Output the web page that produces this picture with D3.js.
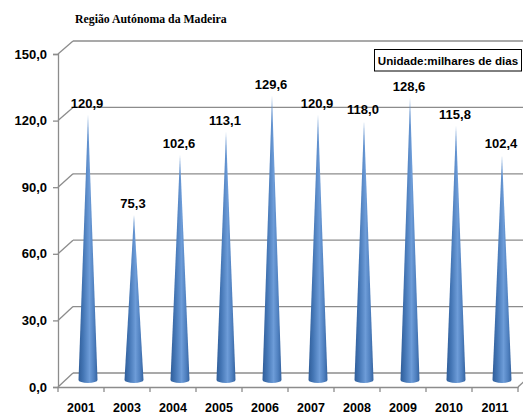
<!DOCTYPE html>
<html>
<head>
<meta charset="utf-8">
<script src="https://cdn.jsdelivr.net/npm/d3@7"></script>
<style>
  html, body { margin: 0; padding: 0; background: #fff; }
  svg { display: block; }
  text { font-family: "Liberation Sans", Arial, sans-serif; font-weight: bold; }
</style>
</head>
<body>
<svg id="chart" width="523" height="418"></svg>
<script>
// chart data
var years = ['2001', '2003', '2004', '2005', '2006', '2007', '2008', '2009', '2010', '2011'];
var values = [120.9, 75.3, 102.6, 113.1, 129.6, 120.9, 118.0, 128.6, 115.8, 102.4];
var yTicks = [0, 30, 60, 90, 120, 150];
var title = 'Região Autónoma da Madeira';
var unitLabel = 'Unidade:milhares de dias';

var W = 523, H = 418;
var DEPTH_X = 15;  // 3d offset of back wall

var svg = d3.select('#chart');

var x = d3.scaleBand().domain(years).range([58, 518]).padding(0);
var yFront = d3.scaleLinear().domain([0, 150]).range([387, 54]);
var yBack = d3.scaleLinear().domain([0, 150]).range([373, 41]);
var yMid = d3.scaleLinear().domain([0, 150]).range([380, 51]);

var fmt = function(d) {
  return d3.format('.1f')(d).replace('.', ',');
};

// gradient for cones
var defs = svg.append('defs');
var grad = defs.append('linearGradient')
    .attr('id', 'coneGrad')
    .attr('x1', '0%').attr('x2', '100%')
    .attr('y1', '0%').attr('y2', '0%');
grad.append('stop').attr('offset', '0%').attr('stop-color', '#2f5d99');
grad.append('stop').attr('offset', '25%').attr('stop-color', '#4476b5');
grad.append('stop').attr('offset', '58%').attr('stop-color', '#6d9cd8');
grad.append('stop').attr('offset', '82%').attr('stop-color', '#4f80bf');
grad.append('stop').attr('offset', '100%').attr('stop-color', '#35639f');

var frame = svg.append('g')
    .attr('fill', 'none')
    .attr('stroke', '#8c8c8c')
    .attr('stroke-width', 1.3);

var x0 = x.range()[0], x1 = x.range()[1];

// back wall gridlines
frame.selectAll('.grid')
    .data(yTicks)
    .enter().append('line')
    .attr('class', 'grid')
    .attr('x1', x0 + DEPTH_X)
    .attr('x2', x1 + DEPTH_X)
    .attr('y1', function(d) { return yBack(d); })
    .attr('y2', function(d) { return yBack(d); });

// side wall diagonals
frame.selectAll('.diag')
    .data(yTicks)
    .enter().append('line')
    .attr('class', 'diag')
    .attr('x1', x0)
    .attr('x2', x0 + DEPTH_X)
    .attr('y1', function(d) { return yFront(d); })
    .attr('y2', function(d) { return yBack(d); });

// floor right diagonal
frame.append('line')
    .attr('x1', x1).attr('y1', yFront(0))
    .attr('x2', x1 + DEPTH_X).attr('y2', yBack(0));

// y axis (front)
var yAxis = svg.append('g')
    .attr('transform', 'translate(' + x0 + ',0)')
    .call(d3.axisLeft(yFront).tickValues(yTicks).tickFormat(fmt)
        .tickSize(5).tickPadding(6));
yAxis.select('.domain').attr('stroke', '#8c8c8c').attr('stroke-width', 1.3);
yAxis.selectAll('.tick line').attr('stroke', '#8c8c8c').attr('stroke-width', 1.3);
yAxis.selectAll('.tick text')
    .attr('font-family', '"Liberation Sans", Arial, sans-serif')
    .attr('font-weight', 'bold')
    .attr('font-size', 13)
    .attr('fill', '#000');

// x axis (front)
var xAxis = svg.append('g')
    .attr('transform', 'translate(0,' + yFront(0) + ')')
    .call(d3.axisBottom(x).tickSize(0).tickPadding(16.5).tickSizeOuter(0));
xAxis.select('.domain').attr('stroke', '#8c8c8c').attr('stroke-width', 1.3);
xAxis.selectAll('.tick text')
    .attr('font-family', '"Liberation Sans", Arial, sans-serif')
    .attr('font-weight', 'bold')
    .attr('font-size', 12.5)
    .attr('fill', '#000');

// tick marks at category boundaries
var bounds = years.map(function(d) { return x(d); }).concat([x1]);
xAxis.selectAll('.bound')
    .data(bounds)
    .enter().append('line')
    .attr('class', 'bound')
    .attr('x1', function(d) { return d; })
    .attr('x2', function(d) { return d; })
    .attr('y1', 0).attr('y2', 5)
    .attr('stroke', '#8c8c8c').attr('stroke-width', 1.3);

// cones
var coneR = 9.5, coneRy = 3;
function coneX(d) {
  return x(d) + x.bandwidth() / 2 + 7;
}

svg.append('g').selectAll('path.cone')
    .data(years)
    .enter().append('path')
    .attr('class', 'cone')
    .attr('fill', 'url(#coneGrad)')
    .attr('d', function(d, i) {
      var cx = coneX(d), base = yMid(0), tip = yMid(values[i]);
      return 'M' + (cx - coneR) + ',' + base +
          'L' + cx + ',' + tip +
          'L' + (cx + coneR) + ',' + base +
          'A' + coneR + ',' + coneRy + ' 0 0 1 ' + (cx - coneR) + ',' + base + 'Z';
    });

// value labels
svg.append('g').selectAll('text.val')
    .data(years)
    .enter().append('text')
    .attr('class', 'val')
    .attr('x', function(d) { return coneX(d) - 1; })
    .attr('y', function(d, i) { return yMid(values[i]) - 7; })
    .attr('text-anchor', 'middle')
    .attr('font-size', 13)
    .attr('fill', '#000')
    .text(function(d, i) { return fmt(values[i]); });

// title (serif, so override the css default)
svg.append('text')
    .attr('x', 75)
    .attr('y', 23)
    .style('font-family', '"Liberation Serif", "Times New Roman", serif')
    .style('font-weight', 'bold')
    .attr('font-size', 11.8)
    .attr('fill', '#000')
    .text(title);

// unit box
svg.append('rect')
    .attr('x', 374.5).attr('y', 49.5)
    .attr('width', 147).attr('height', 21.5)
    .attr('fill', '#fff')
    .attr('stroke', '#000')
    .attr('stroke-width', 1);
svg.append('text')
    .attr('x', 448)
    .attr('y', 64.5)
    .attr('text-anchor', 'middle')
    .attr('font-size', 11.6)
    .attr('fill', '#000')
    .text(unitLabel);
</script>
</body>
</html>
